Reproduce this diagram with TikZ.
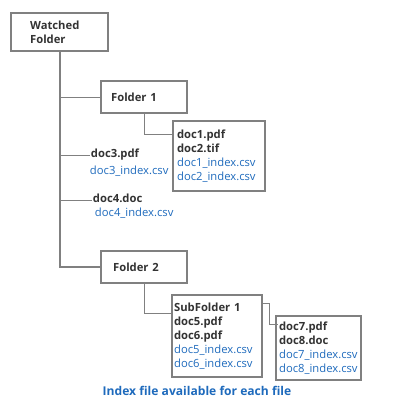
\documentclass[tikz,border=0pt]{standalone}
\usepackage{fontspec}
\setmainfont{Open Sans}
\usetikzlibrary{positioning}
\newlength\pxu
\setlength\pxu{0.25mm}
\definecolor{boxgray}{RGB}{128,128,128}
\definecolor{filedark}{RGB}{51,51,51}
\definecolor{indexblue}{RGB}{30,106,188}
\newcommand{\fname}[1]{{\color{filedark}\bfseries #1}}
\newcommand{\iname}[1]{{\color{indexblue}#1}}

\begin{document}
\begin{tikzpicture}[
        x=0.25mm, y=-0.25mm,
        folderbox/.style={draw=boxgray, line width=1.6pt, anchor=north west, align=left, inner ysep=0pt, font=\fontsize{8}{9.9}\selectfont},
        filetext/.style={inner sep=0.5pt, anchor=west, font=\fontsize{8}{9.9}\selectfont},
        trunk/.style={draw=boxgray, line width=1.3pt},
        link/.style={draw=boxgray, line width=0.7pt}
    ]
        \useasboundingbox (0,0) rectangle (400,400);

        % --- folders ---
        \node[folderbox, minimum width=97\pxu, minimum height=38\pxu, text width=59\pxu, inner xsep=19\pxu] (watched) at (10,12) {\fname{Watched}\\ \fname{Folder}};
        \node[folderbox, minimum width=86\pxu, minimum height=32\pxu, text width=66\pxu, inner xsep=10\pxu] (folder1) at (100,80) {\fname{Folder 1}};
        \node[folderbox, minimum width=86\pxu, minimum height=32\pxu, text width=62\pxu, inner xsep=12\pxu] (folder2) at (100,250) {\fname{Folder 2}};

        % --- file boxes ---
        \node[folderbox, minimum width=92\pxu, minimum height=70\pxu, text width=84\pxu, inner xsep=4\pxu] (docs1) at (172,120) {\fname{doc1.pdf}\\ \fname{doc2.tif}\\ \iname{doc1\_index.csv}\\ \iname{doc2\_index.csv}};
        \node[folderbox, minimum width=90\pxu, minimum height=82\pxu, text width=86\pxu, inner xsep=2\pxu] (sub1) at (171,294) {\fname{SubFolder 1}\\ \fname{doc5.pdf}\\ \fname{doc6.pdf}\\ \iname{doc5\_index.csv}\\ \iname{doc6\_index.csv}};
        \node[folderbox, minimum width=85\pxu, minimum height=64\pxu, text width=79\pxu, inner xsep=3\pxu] (docs7) at (275,315) {\fname{doc7.pdf}\\ \fname{doc8.doc}\\ \iname{doc7\_index.csv}\\ \iname{doc8\_index.csv}};

        % --- loose files ---
        \node[filetext] (doc3) at (90,155) {\fname{doc3.pdf}};
        \node[filetext] (doc3idx) at (89,171) {\iname{doc3\_index.csv}};
        \node[filetext] (doc4) at (92,198) {\fname{doc4.doc}};
        \node[filetext] (doc4idx) at (94,213) {\iname{doc4\_index.csv}};

        % --- connectors ---
        \draw[trunk] (watched.south) |- (folder2.west);
        \draw[link] (watched.south |- folder1.west) -- (folder1.west);
        \draw[link] (watched.south |- doc3.west) -- (doc3.west);
        \draw[link] (watched.south |- 0,200) -- (doc4.west |- 0,200);
        \draw[link] (folder1.south) |- ([yshift=-14\pxu]docs1.north west);
        \draw[link] (folder2.south) |- ([yshift=-19\pxu]sub1.north west);
        \draw[link] ([yshift=-9\pxu]sub1.north east) -- ++(6,0) |- ([yshift=-9\pxu, xshift=3\pxu]docs7.north west);

        % caption
        \node[font=\fontsize{8.6}{10}\selectfont\bfseries, text=indexblue] (caption) at (197,391) {Index file available for each file};
\end{tikzpicture}
\end{document}
